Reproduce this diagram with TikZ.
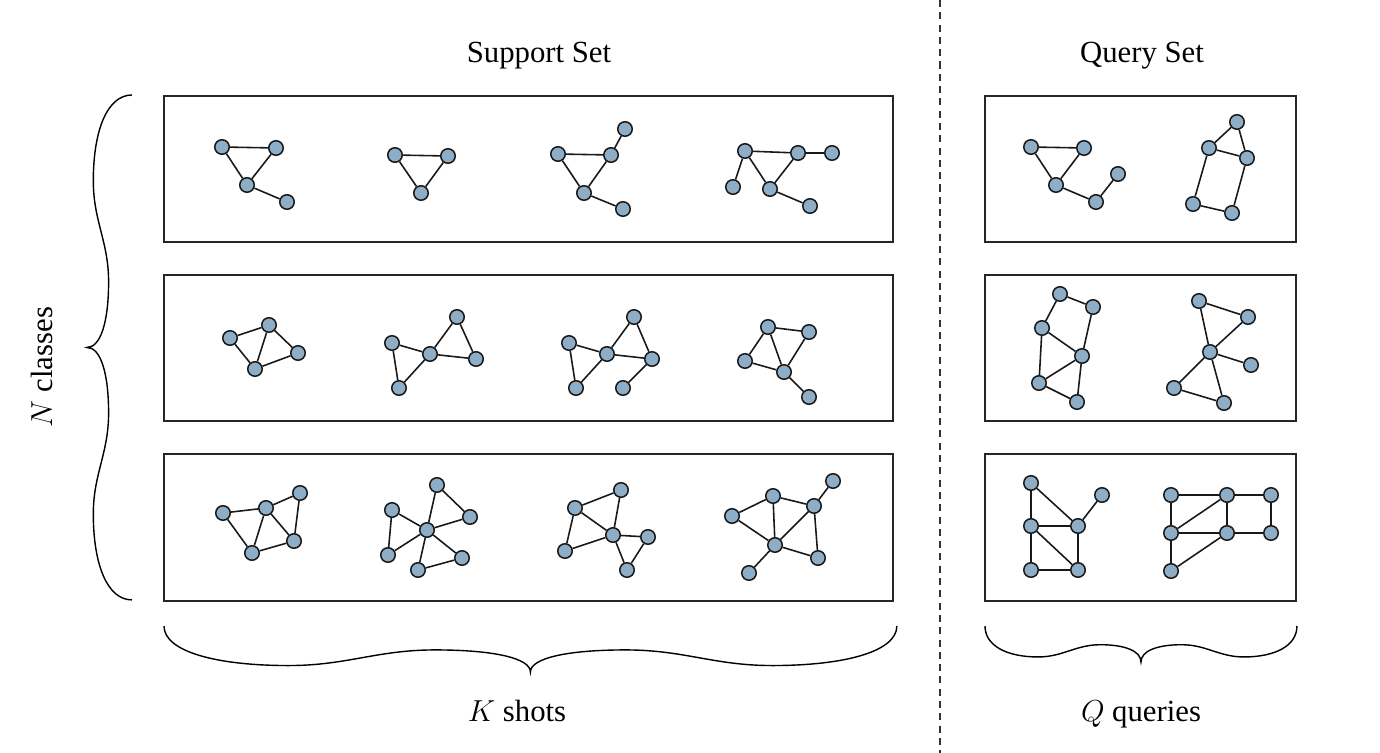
\documentclass[tikz,border=0pt]{standalone}
\usepackage{fontspec}
\setmainfont{Liberation Serif}
\usepackage{tikz}

% one half-wave brace in a unit frame: ends at (0,0) and (1,0), tip at (0.5,1)
\newcommand{\wavybrace}{(0,0) .. controls (0,0.55) and (0.07,0.86) .. (0.17,0.86)
  .. controls (0.25,0.86) and (0.29,0.52) .. (0.37,0.52)
  .. controls (0.45,0.52) and (0.5,0.7) .. (0.5,1)
  .. controls (0.5,0.7) and (0.55,0.52) .. (0.63,0.52)
  .. controls (0.71,0.52) and (0.75,0.86) .. (0.83,0.86)
  .. controls (0.93,0.86) and (1,0.55) .. (1,0)}

\begin{document}
\begin{tikzpicture}
    [x=0.02cm, y=-0.02cm,
    vtx/.style={circle, draw=black!90, fill={rgb,255:red,142;green,174;blue,200}, line width=0.85pt,
    inner sep=0pt, minimum size=0.29cm},
    edge/.style={line width=0.9pt, black!90},
    setbox/.style={draw=black!85, line width=0.8pt},
    bracepath/.style={line width=0.8pt},
    lbl/.style={font=\fontsize{17.5}{21}\selectfont, inner sep=0pt}]
    \useasboundingbox (0,0) rectangle (1380,753);

    % titles and counts
    \node [lbl, anchor=base] (support) at (539,63) {Support Set};
    \node [lbl, anchor=base] (query) at (1142,63) {Query Set};
    \node [lbl, anchor=base] (shots) at (517,721) {$K$ shots};
    \node [lbl, anchor=base] (queries) at (1141,721) {$Q$ queries};
    \node [lbl, anchor=base, rotate=90] (classes) at (52,367) {$N$ classes};

    % separator
    \draw [dash pattern=on 4pt off 3pt, line width=0.6pt, black!80] (940,0) -- (940,753);

    % boxes
    \draw [setbox] (164,96) rectangle (893,242);
    \draw [setbox] (164,275) rectangle (893,421);
    \draw [setbox] (164,454) rectangle (893,601);
    \draw [setbox] (985,96) rectangle (1296,242);
    \draw [setbox] (985,275) rectangle (1296,421);
    \draw [setbox] (985,454) rectangle (1296,601);

    % braces
    \begin{scope}[shift={(132,95)}, x={(0cm,-10.1cm)}, y={(-0.9cm,0cm)}]
      \draw [bracepath] \wavybrace;
    \end{scope}
    \begin{scope}[shift={(164,626)}, x={(14.66cm,0cm)}, y={(0cm,-0.92cm)}]
      \draw [bracepath] \wavybrace;
    \end{scope}
    \begin{scope}[shift={(985,626)}, x={(6.24cm,0cm)}, y={(0cm,-0.72cm)}]
      \draw [bracepath] \wavybrace;
    \end{scope}

    % support set, class 1
    \node [vtx] (s1a) at (222,147) {}; \node [vtx] (s1b) at (276,148) {};
    \node [vtx] (s1c) at (247,185) {}; \node [vtx] (s1d) at (287,202) {};
    \draw [edge] (s1a) -- (s1b) (s1a) -- (s1c) (s1b) -- (s1c) (s1c) -- (s1d);

    \node [vtx] (s2a) at (395,155) {}; \node [vtx] (s2b) at (448,156) {};
    \node [vtx] (s2c) at (421,193) {};
    \draw [edge] (s2a) -- (s2b) (s2a) -- (s2c) (s2b) -- (s2c);

    \node [vtx] (s3a) at (558,154) {}; \node [vtx] (s3b) at (611,155) {};
    \node [vtx] (s3c) at (625,129) {}; \node [vtx] (s3d) at (584,193) {};
    \node [vtx] (s3e) at (623,209) {};
    \draw [edge] (s3a) -- (s3b) (s3a) -- (s3d) (s3b) -- (s3d) (s3b) -- (s3c) (s3d) -- (s3e);

    \node [vtx] (s4a) at (745,151) {}; \node [vtx] (s4b) at (798,153) {};
    \node [vtx] (s4c) at (832,153) {}; \node [vtx] (s4d) at (733,187) {};
    \node [vtx] (s4e) at (770,189) {}; \node [vtx] (s4f) at (810,206) {};
    \draw [edge] (s4a) -- (s4b) (s4b) -- (s4c) (s4a) -- (s4d) (s4a) -- (s4e) (s4b) -- (s4e)
    (s4e) -- (s4f);

    % support set, class 2
    \node [vtx] (s5a) at (230,338) {}; \node [vtx] (s5b) at (269,325) {};
    \node [vtx] (s5c) at (298,353) {}; \node [vtx] (s5d) at (255,369) {};
    \draw [edge] (s5a) -- (s5b) (s5a) -- (s5d) (s5b) -- (s5d) (s5b) -- (s5c) (s5c) -- (s5d);

    \node [vtx] (s6a) at (392,343) {}; \node [vtx] (s6b) at (430,354) {};
    \node [vtx] (s6c) at (457,317) {}; \node [vtx] (s6d) at (476,359) {};
    \node [vtx] (s6e) at (399,388) {};
    \draw [edge] (s6a) -- (s6b) (s6a) -- (s6e) (s6b) -- (s6e) (s6b) -- (s6c) (s6c) -- (s6d)
    (s6b) -- (s6d);

    \node [vtx] (s7a) at (569,343) {}; \node [vtx] (s7b) at (607,354) {};
    \node [vtx] (s7c) at (634,317) {}; \node [vtx] (s7d) at (652,359) {};
    \node [vtx] (s7e) at (576,388) {}; \node [vtx] (s7f) at (623,388) {};
    \draw [edge] (s7a) -- (s7b) (s7a) -- (s7e) (s7b) -- (s7e) (s7b) -- (s7c) (s7c) -- (s7d)
    (s7b) -- (s7d) (s7d) -- (s7f);

    \node [vtx] (s8a) at (768,327) {}; \node [vtx] (s8b) at (809,332) {};
    \node [vtx] (s8c) at (745,361) {}; \node [vtx] (s8d) at (784,372) {};
    \node [vtx] (s8e) at (809,397) {};
    \draw [edge] (s8a) -- (s8b) (s8a) -- (s8c) (s8a) -- (s8d) (s8b) -- (s8d) (s8c) -- (s8d)
    (s8d) -- (s8e);

    % support set, class 3
    \node [vtx] (s9a) at (223,513) {}; \node [vtx] (s9b) at (266,508) {};
    \node [vtx] (s9c) at (300,493) {}; \node [vtx] (s9d) at (294,541) {};
    \node [vtx] (s9e) at (252,553) {};
    \draw [edge] (s9a) -- (s9b) (s9a) -- (s9e) (s9b) -- (s9e) (s9b) -- (s9c) (s9b) -- (s9d)
    (s9c) -- (s9d) (s9d) -- (s9e);

    \node [vtx] (s10o) at (427,530) {}; \node [vtx] (s10a) at (392,510) {};
    \node [vtx] (s10b) at (437,485) {}; \node [vtx] (s10c) at (470,517) {};
    \node [vtx] (s10d) at (462,558) {}; \node [vtx] (s10e) at (418,570) {};
    \node [vtx] (s10f) at (388,555) {};
    \draw [edge] (s10o) -- (s10a) (s10o) -- (s10b) (s10o) -- (s10c) (s10o) -- (s10d)
    (s10o) -- (s10e) (s10o) -- (s10f) (s10a) -- (s10f) (s10b) -- (s10c) (s10d) -- (s10e);

    \node [vtx] (s11a) at (621,490) {}; \node [vtx] (s11b) at (575,508) {};
    \node [vtx] (s11c) at (613,535) {}; \node [vtx] (s11d) at (648,537) {};
    \node [vtx] (s11e) at (565,551) {}; \node [vtx] (s11f) at (627,570) {};
    \draw [edge] (s11a) -- (s11b) (s11a) -- (s11c) (s11b) -- (s11c) (s11b) -- (s11e)
    (s11c) -- (s11e) (s11c) -- (s11d) (s11c) -- (s11f) (s11d) -- (s11f);

    \node [vtx] (s12a) at (773,496) {}; \node [vtx] (s12b) at (814,506) {};
    \node [vtx] (s12c) at (833,481) {}; \node [vtx] (s12d) at (732,516) {};
    \node [vtx] (s12e) at (775,545) {}; \node [vtx] (s12f) at (818,558) {};
    \node [vtx] (s12g) at (749,573) {};
    \draw [edge] (s12a) -- (s12b) (s12a) -- (s12d) (s12a) -- (s12e) (s12b) -- (s12c)
    (s12b) -- (s12e) (s12b) -- (s12f) (s12d) -- (s12e) (s12e) -- (s12f) (s12e) -- (s12g);

    % query set
    \node [vtx] (q1a) at (1031,147) {}; \node [vtx] (q1b) at (1084,148) {};
    \node [vtx] (q1c) at (1056,185) {}; \node [vtx] (q1d) at (1096,202) {};
    \node [vtx] (q1e) at (1118,174) {};
    \draw [edge] (q1a) -- (q1b) (q1a) -- (q1c) (q1b) -- (q1c) (q1c) -- (q1d) (q1d) -- (q1e);

    \node [vtx] (q2a) at (1237,122) {}; \node [vtx] (q2b) at (1209,148) {};
    \node [vtx] (q2c) at (1247,158) {}; \node [vtx] (q2d) at (1193,204) {};
    \node [vtx] (q2e) at (1232,213) {};
    \draw [edge] (q2a) -- (q2b) (q2a) -- (q2c) (q2b) -- (q2c) (q2b) -- (q2d) (q2c) -- (q2e)
    (q2d) -- (q2e);

    \node [vtx] (q3a) at (1060,294) {}; \node [vtx] (q3b) at (1093,307) {};
    \node [vtx] (q3c) at (1042,328) {}; \node [vtx] (q3d) at (1082,356) {};
    \node [vtx] (q3e) at (1039,383) {}; \node [vtx] (q3f) at (1077,402) {};
    \draw [edge] (q3a) -- (q3b) (q3a) -- (q3c) (q3b) -- (q3d) (q3c) -- (q3d) (q3c) -- (q3e)
    (q3d) -- (q3e) (q3d) -- (q3f) (q3e) -- (q3f);

    \node [vtx] (q4a) at (1199,301) {}; \node [vtx] (q4b) at (1248,317) {};
    \node [vtx] (q4o) at (1210,352) {}; \node [vtx] (q4c) at (1251,365) {};
    \node [vtx] (q4d) at (1174,388) {}; \node [vtx] (q4e) at (1224,403) {};
    \draw [edge] (q4a) -- (q4b) (q4a) -- (q4o) (q4b) -- (q4o) (q4o) -- (q4c) (q4o) -- (q4d)
    (q4o) -- (q4e) (q4d) -- (q4e);

    \node [vtx] (q5a) at (1031,483) {}; \node [vtx] (q5b) at (1102,495) {};
    \node [vtx] (q5c) at (1031,526) {}; \node [vtx] (q5d) at (1078,526) {};
    \node [vtx] (q5e) at (1031,570) {}; \node [vtx] (q5f) at (1078,570) {};
    \draw [edge] (q5a) -- (q5c) (q5a) -- (q5d) (q5b) -- (q5d) (q5c) -- (q5d) (q5c) -- (q5e)
    (q5c) -- (q5f) (q5d) -- (q5f) (q5e) -- (q5f);

    \node [vtx] (q6a) at (1171,495) {}; \node [vtx] (q6b) at (1227,495) {};
    \node [vtx] (q6c) at (1271,495) {}; \node [vtx] (q6d) at (1171,533) {};
    \node [vtx] (q6e) at (1227,533) {}; \node [vtx] (q6f) at (1271,533) {};
    \node [vtx] (q6g) at (1171,571) {};
    \draw [edge] (q6a) -- (q6b) (q6b) -- (q6c) (q6c) -- (q6f) (q6d) -- (q6e) (q6e) -- (q6f)
    (q6a) -- (q6d) (q6b) -- (q6e) (q6d) -- (q6b) (q6d) -- (q6g) (q6g) -- (q6e);
\end{tikzpicture}
\end{document}
